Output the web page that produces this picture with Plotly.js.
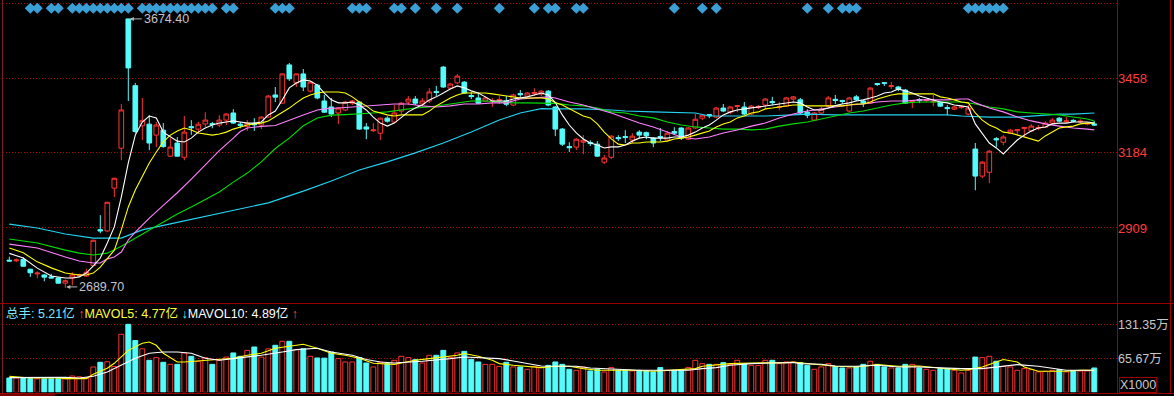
<!DOCTYPE html>
<html><head><meta charset="utf-8">
<script src="https://cdn.plot.ly/plotly-3.0.1.min.js"></script>
<style>html,body{margin:0;padding:0;background:#000;overflow:hidden}#chart{width:1174px;height:396px}</style>
</head><body><div id="chart"></div>
<script>
// ---- price data (index order, left to right) ----
const opens  = [2791,2789,2794,2758,2741,2737,2730,2726,2707,2726,2735,2733,2772,2903,2898,3055,3201,3674.4,3430,3283,3289,3249,3267,3172,3220,3168,3280,3271,3290,3291,3286,3304,3330,3289,3280,3291,3286,3315,3396,3366,3506,3440,3473,3410,3432,3374,3352,3330,3341,3366,3370,3279,3265,3256,3311,3297,3337,3370,3381,3363,3374,3409,3498,3421,3440,3443,3394,3385,3374,3372,3376,3374,3359,3401,3392,3401,3399,3410,3352,3271,3207,3205,3223,3222,3216,3150,3168,3240,3244,3231,3260,3258,3238,3244,3231,3262,3275,3234,3275,3311,3324,3315,3348,3333,3354,3352,3326,3350,3359,3372,3350,3355,3381,3378,3333,3304,3330,3355,3380,3376,3337,3389,3374,3366,3438,3441,3427,3425,3414,3372,3379,3376,3370,3370,3350,3344,3350,3326,3198,3099,3113,3236,3223,3256,3265,3273,3264,3274,3278,3293,3311,3298,3303,3298,3289,3290];
const highs  = [2804,2797,2801,2760,2750,2740,2741,2728,2720,2747,2742,2760,2866,2956,3005,3093,3363,3674.4,3440,3385,3322,3297,3293,3238,3242,3319,3304,3297,3333,3297,3322,3330,3344,3297,3304,3311,3318,3396,3425,3475,3513,3475,3491,3447,3436,3396,3385,3352,3374,3378,3374,3293,3293,3313,3318,3359,3370,3392,3392,3385,3421,3429,3502,3440,3473,3447,3407,3403,3392,3385,3392,3392,3400,3414,3407,3421,3414,3414,3355,3275,3223,3238,3249,3230,3227,3176,3249,3249,3267,3256,3267,3262,3242,3275,3264,3278,3278,3278,3326,3326,3326,3352,3363,3355,3358,3370,3359,3359,3385,3389,3370,3389,3392,3385,3344,3333,3352,3392,3396,3378,3389,3396,3378,3425,3440,3442,3443,3429,3418,3378,3385,3381,3396,3374,3359,3355,3355,3359,3220,3154,3194,3242,3249,3271,3271,3278,3289,3286,3300,3311,3315,3315,3307,3307,3296,3300];
const lows   = [2786,2784,2768,2730,2725,2714,2725,2705,2689.7,2699,2730,2730,2768,2890,2895,3022,3157,3374,3255,3231,3194,3205,3203,3170,3170,3157,3250,3256,3278,3274,3278,3286,3290,3274,3264,3264,3271,3313,3370,3364,3447,3425,3410,3405,3380,3330,3315,3289,3337,3359,3268,3234,3260,3231,3295,3295,3326,3359,3359,3355,3366,3392,3422,3418,3436,3400,3381,3363,3370,3352,3363,3355,3355,3389,3388,3392,3392,3355,3245,3209,3187,3194,3179,3209,3170,3143,3161,3227,3220,3220,3238,3234,3205,3227,3228,3249,3231,3231,3272,3304,3311,3311,3333,3326,3333,3322,3322,3344,3348,3359,3340,3352,3370,3326,3311,3300,3326,3352,3363,3363,3333,3374,3352,3363,3429,3429,3418,3410,3363,3348,3366,3370,3355,3352,3322,3340,3344,3322,3047,3091,3073,3205,3212,3253,3249,3242,3260,3267,3275,3290,3297,3293,3296,3293,3285,3283];
const closes = [2788,2792,2769,2745,2744,2729,2726,2707,2716,2737,2738,2747,2864,2898,3003,3091,3341,3495,3262,3303,3220,3286,3207,3205,3172,3260,3276,3289,3304,3288,3304,3326,3293,3285,3293,3287,3315,3392,3388,3473,3455,3473,3425,3443,3385,3333,3326,3348,3370,3374,3271,3271,3268,3311,3300,3330,3366,3381,3366,3374,3407,3405,3425,3436,3465,3403,3390,3366,3385,3374,3379,3362,3396,3397,3403,3405,3410,3359,3271,3216,3203,3234,3230,3218,3172,3165,3245,3236,3240,3245,3249,3247,3220,3240,3256,3256,3238,3275,3307,3322,3320,3348,3337,3352,3357,3326,3355,3353,3381,3368,3353,3385,3389,3330,3322,3330,3344,3385,3376,3372,3385,3378,3366,3421,3434,3439,3430,3418,3366,3375,3376,3378,3372,3355,3346,3352,3352,3348,3099,3150,3190,3232,3242,3267,3269,3277,3282,3277,3293,3304,3300,3301,3300,3300,3292,3286];
// volume (万, x1000)
const volumes = [27.6,27.6,28,26.4,26,26,26,26,26,31.5,30,28,48.9,58,59,50,112,131.3,100,84,61.8,67,58,54,54,76,69.5,60,67,54,61.8,68,76,69.5,81,87.5,68,84,90.8,98.5,98.5,82.4,84,69.5,66.3,66,77.9,65,58.6,58.6,67,56.6,49,58.6,55.3,61.8,69.5,67,63,56.6,71.5,71.5,81,67,76,79,63.7,58.6,54,54,50,58,49,49,44.4,50,47.7,52,58.6,54,44.4,42.5,49,41.2,44.4,39.3,47.7,42.5,42.5,41.2,42.5,41.2,39.3,47.7,42.5,42.5,42.5,47.7,61.8,55.3,54,54,57.3,54,61.8,55.3,52,52,61.8,61.8,55.3,58.6,58.6,57.3,52,44.4,49,55.3,50,47,47,49,54,60,54,49,47,47,54,54,47,44.4,42.5,45.7,45.7,42.5,37.3,42.5,68,67,69.5,60,50,49,42.5,45.7,43.8,39.3,40.5,42.5,43.8,39.3,41.2,41.2,41.2,47];

// moving-average lines: [index, value]
const ma5 = [[0,2816],[2,2799],[4,2762],[6,2733],[8,2726],[9,2726],[10,2730],[11,2744],[12,2770],[13,2799],[14,2854],[15,2913],[16,3022],[17,3147],[18,3249],[19,3297],[20,3319],[21,3312],[22,3260],[23,3242],[24,3227],[25,3224],[26,3238],[27,3260],[28,3275],[29,3286],[30,3293],[31,3297],[32,3301],[33,3297],[34,3293],[35,3293],[36,3297],[37,3323],[38,3337],[39,3378],[40,3422],[41,3440],[42,3451],[43,3447],[44,3432],[45,3403],[46,3378],[47,3367],[48,3367],[49,3370],[50,3359],[51,3341],[52,3315],[53,3293],[54,3282],[55,3293],[56,3312],[57,3334],[58,3348],[59,3359],[60,3378],[61,3389],[62,3403],[63,3418],[64,3429],[65,3422],[66,3411],[67,3403],[68,3389],[69,3374],[70,3374],[71,3374],[72,3381],[73,3385],[74,3389],[75,3396],[76,3403],[77,3396],[78,3368],[79,3323],[80,3286],[81,3257],[82,3235],[83,3220],[84,3213],[85,3202],[86,3206],[87,3206],[88,3213],[89,3227],[90,3238],[91,3242],[92,3238],[93,3238],[94,3238],[95,3242],[96,3242],[97,3249],[98,3260],[99,3275],[100,3286],[101,3304],[102,3323],[103,3334],[104,3341],[105,3345],[106,3348],[107,3352],[108,3356],[109,3359],[110,3363],[111,3367],[112,3370],[113,3367],[114,3352],[115,3341],[116,3341],[117,3348],[118,3357],[119,3363],[120,3367],[121,3374],[122,3378],[123,3385],[124,3392],[125,3403],[126,3407],[127,3418],[128,3411],[129,3403],[130,3392],[131,3385],[132,3378],[133,3370],[134,3367],[135,3359],[136,3356],[137,3352],[138,3290],[139,3253],[140,3220],[141,3202],[142,3180],[143,3206],[144,3231],[145,3249],[146,3264],[147,3275],[148,3279],[149,3290],[150,3293],[151,3293],[152,3297],[153,3297],[154,3297],[155,3293]];
const ma10 = [[0,2836],[2,2818],[4,2785],[6,2763],[8,2744],[10,2737],[11,2737],[12,2744],[13,2766],[14,2799],[15,2828],[16,2902],[17,2986],[18,3048],[19,3096],[20,3147],[21,3187],[22,3224],[23,3249],[24,3264],[25,3275],[26,3268],[27,3257],[28,3253],[29,3249],[30,3253],[31,3260],[32,3271],[33,3279],[34,3286],[35,3290],[36,3293],[37,3301],[38,3317],[39,3330],[40,3348],[41,3367],[42,3385],[43,3396],[44,3403],[45,3407],[46,3407],[47,3407],[48,3403],[49,3389],[50,3370],[51,3356],[52,3337],[53,3330],[54,3323],[55,3319],[56,3323],[57,3323],[58,3323],[59,3323],[60,3337],[61,3356],[62,3370],[63,3385],[64,3396],[65,3403],[66,3403],[67,3403],[68,3403],[69,3400],[70,3396],[71,3392],[72,3389],[73,3385],[74,3385],[75,3385],[76,3385],[77,3381],[78,3368],[79,3359],[80,3345],[81,3330],[82,3319],[83,3312],[84,3290],[85,3260],[86,3235],[87,3216],[88,3213],[89,3220],[90,3220],[91,3224],[92,3224],[93,3224],[94,3227],[95,3235],[96,3238],[97,3242],[98,3249],[99,3257],[100,3264],[101,3279],[102,3290],[103,3297],[104,3312],[105,3319],[106,3330],[107,3334],[108,3345],[109,3348],[110,3352],[111,3356],[112,3359],[113,3359],[114,3356],[115,3356],[116,3356],[117,3356],[118,3357],[119,3356],[120,3359],[121,3363],[122,3363],[123,3370],[124,3381],[125,3389],[126,3396],[127,3400],[128,3400],[129,3400],[130,3400],[131,3400],[132,3400],[133,3389],[134,3385],[135,3378],[136,3370],[137,3367],[138,3330],[139,3304],[140,3286],[141,3275],[142,3260],[143,3257],[144,3249],[145,3242],[146,3235],[147,3227],[148,3246],[149,3260],[150,3275],[151,3279],[152,3282],[153,3290],[154,3293],[155,3293]];
const ma20 = [[0,2850],[4,2836],[8,2803],[10,2788],[12,2781],[13,2781],[14,2796],[15,2803],[16,2821],[17,2865],[18,2894],[19,2920],[20,2945],[22,2992],[24,3038],[26,3088],[28,3140],[30,3192],[32,3238],[33,3262],[34,3275],[36,3281],[38,3284],[40,3304],[42,3323],[44,3341],[45,3345],[47,3348],[49,3352],[51,3356],[53,3359],[55,3363],[57,3363],[59,3356],[61,3352],[63,3356],[65,3363],[67,3363],[69,3367],[71,3367],[73,3381],[75,3385],[77,3389],[78,3385],[80,3370],[82,3359],[84,3345],[86,3330],[88,3312],[90,3293],[92,3279],[94,3260],[96,3242],[98,3235],[100,3242],[102,3257],[104,3268],[106,3282],[108,3293],[110,3312],[112,3326],[114,3337],[116,3345],[118,3352],[120,3359],[122,3363],[124,3370],[126,3374],[128,3374],[130,3378],[132,3378],[134,3378],[136,3381],[137,3381],[138,3367],[140,3348],[142,3334],[144,3315],[146,3301],[148,3290],[150,3282],[152,3275],[154,3271],[155,3268]];
const ma30 = [[0,2869],[4,2854],[8,2828],[10,2817],[12,2810],[14,2817],[16,2842],[18,2872],[20,2900],[22,2931],[24,2960],[26,2986],[28,3015],[30,3041],[32,3077],[34,3110],[36,3151],[38,3200],[40,3238],[42,3283],[44,3312],[46,3322],[48,3324],[50,3326],[52,3330],[54,3334],[56,3341],[58,3348],[60,3352],[62,3359],[64,3367],[66,3374],[68,3374],[70,3370],[72,3367],[74,3367],[76,3367],[78,3365],[80,3359],[82,3356],[84,3348],[86,3334],[88,3330],[90,3319],[92,3312],[94,3297],[96,3286],[98,3279],[100,3275],[102,3271],[104,3271],[106,3268],[108,3271],[110,3282],[112,3290],[114,3297],[116,3308],[118,3319],[120,3330],[122,3337],[124,3348],[126,3359],[128,3367],[130,3370],[132,3370],[134,3370],[136,3370],[138,3363],[140,3352],[142,3345],[144,3334],[146,3330],[148,3326],[150,3323],[152,3315],[154,3308],[155,3301]];
const ma60 = [[0,2923],[4,2909],[8,2887],[12,2872],[16,2872],[19,2902],[23,2924],[27,2946],[32,2971],[37,3001],[42,3044],[46,3081],[50,3121],[54,3151],[58,3184],[62,3220],[66,3260],[70,3304],[73,3330],[76,3346],[78,3345],[82,3345],[86,3341],[88,3337],[92,3334],[96,3330],[98,3330],[100,3319],[104,3319],[108,3319],[112,3323],[114,3326],[118,3323],[122,3323],[126,3323],[130,3323],[134,3323],[136,3319],[140,3315],[144,3315],[148,3323],[150,3326],[152,3326],[154,3330],[155,3330]];
const mavol5 = [[0,30.9],[2,29.6],[3,27.6],[7,27.6],[8,26.5],[11,26.5],[12,34.8],[14,46.4],[15,56],[17,81],[19,94.6],[20,97],[21,90.8],[22,75.3],[24,58.5],[25,58.5],[27,60.5],[29,61.8],[32,65.7],[34,71.5],[36,75.3],[38,85],[40,88.8],[42,92.7],[44,85],[46,75.3],[48,71.5],[50,65.7],[52,56],[55,54],[56,56.6],[58,61.8],[60,65],[62,68.2],[64,71.5],[65,74.8],[67,69.5],[69,61.8],[70,55.4],[72,52.2],[75,48.9],[76,47.7],[78,50.2],[80,50.2],[82,45.8],[84,42.5],[87,42.5],[89,42.5],[92,40.6],[94,42.5],[96,43.8],[98,45.8],[99,50.2],[101,53.5],[103,55.4],[106,56.6],[108,56.6],[111,57.4],[112,58.5],[113,56.6],[115,54.1],[118,50.2],[121,48.9],[124,53.5],[127,50.2],[130,50.8],[133,46.9],[136,42.5],[137,43.8],[139,48.9],[141,58.5],[142,63.2],[144,58.5],[145,48.9],[147,40.6],[149,40.6],[151,40.6],[153,42.5],[155,42.5]];
const mavol10 = [[0,28.4],[3,29],[8,29],[10,27.6],[12,30.9],[14,39.2],[16,52.2],[18,65.7],[20,75.3],[22,77.8],[24,77.8],[26,75.3],[28,65.7],[30,61.8],[32,65],[34,68.2],[36,71.5],[39,77.8],[41,82.5],[44,85],[46,77.8],[49,71.5],[51,63.2],[53,58.5],[55,56.6],[59,59.9],[61,61.8],[63,65],[65,68.2],[68,67],[70,65],[72,60.5],[74,55.4],[76,50.8],[78,50.2],[81,50.2],[83,46.9],[85,45.8],[88,43.8],[90,42.5],[94,42.5],[97,42.5],[99,45.8],[101,47.7],[103,52.2],[106,55.4],[109,56.6],[112,57.4],[113,55.4],[116,54.1],[118,50.8],[121,50.2],[124,52.2],[127,48.9],[130,48.9],[133,46.9],[136,45.8],[139,45.8],[142,50.2],[144,53.5],[147,50.2],[149,46.9],[151,42.5],[155,42.5]];
// signal markers (candle indices)
const signalIdx = [3,4,6,7,9,10,11,12,13,14,15,16,17,19,20,21,22,23,24,25,26,27,28,29,31,32,38,39,40,49,50,51,55,56,58,61,64,70,75,77,78,81,82,95,99,101,114,117,119,120,121,137,138,139,140,141,142];
// axis labels
const priceTicks = [2909,3184,3458,3729];
const volTicks = [65.67,131.35];
const volTickText = ['65.67万','131.35万'];
const hiIdx = 17, hiVal = 3674.40, loIdx = 8, loVal = 2689.70;
const legendParts = [['总手: 5.21亿 ','#7fe6ff',0],['↑','#ff5050',1],['MAVOL5: 4.77亿 ','#ffff33',0],['↓','#55ffff',1],['MAVOL10: 4.89亿 ','#ffffff',0],['↑','#ff5050',1]];

// ---- layout ----
const W = 1174, H = 396;
const PX = v => v / W, PY = v => 1 - v / H;
const RED = '#ff3333', CYAN = '#54fcfc', FRAME = '#9a0000';
const FONT = 'Liberation Sans, Arial, Noto Sans CJK SC, sans-serif';
const yHi = 3743.6, yLo = yHi - 303 * 3.6607;
const volHi = (392.3 - 303) * 65.67 / 34;
const idx = closes.map((_, i) => i);
const up = closes.map((c, i) => c >= opens[i]);

const line = (pairs, color, yaxis) => ({type: 'scatter', mode: 'lines', x: pairs.map(p => p[0]), y: pairs.map(p => p[1]),
  yaxis: yaxis || 'y', line: {color: color, width: 1.1}, hoverinfo: 'skip'});

const data = [
  {type: 'bar', x: idx, y: volumes, yaxis: 'y2', width: 0.7,
   marker: {color: up.map(u => u ? '#000000' : CYAN), line: {color: up.map(u => u ? RED : CYAN), width: 1}}, hoverinfo: 'skip'},
  line(mavol5, '#ffff00', 'y2'),
  line(mavol10, '#ffffff', 'y2'),
  {type: 'candlestick', x: idx, open: opens, high: highs, low: lows, close: closes,
   increasing: {line: {color: RED, width: 1}, fillcolor: '#000000'},
   decreasing: {line: {color: CYAN, width: 1}, fillcolor: CYAN}, whiskerwidth: 0, hoverinfo: 'skip'},
  line(ma60, '#22d3f2'),
  line(ma30, '#00dd00'),
  line(ma20, '#ff80ff'),
  line(ma10, '#ffff00'),
  line(ma5, '#ffffff'),
  {type: 'scatter', mode: 'markers', x: signalIdx, y: signalIdx.map(() => yHi - 8.3 * (yHi - yLo) / 303),
   marker: {symbol: 'diamond', size: 8.5, color: '#3a9fd5'}, hoverinfo: 'skip'}
];

const shapes = [
  {type: 'line', xref: 'paper', yref: 'paper', x0: PX(2.5), x1: PX(2.5), y0: PY(0), y1: PY(393), line: {color: '#7a2020', width: 1}},
  {type: 'line', xref: 'paper', yref: 'paper', x0: 0, x1: 1, y0: PY(303.5), y1: PY(303.5), line: {color: FRAME, width: 1}},
  {type: 'line', xref: 'paper', yref: 'paper', x0: PX(1117.5), x1: PX(1117.5), y0: PY(0), y1: PY(393), line: {color: FRAME, width: 1}},
  {type: 'line', xref: 'paper', yref: 'paper', x0: PX(1170.5), x1: PX(1170.5), y0: PY(0), y1: PY(393), line: {color: FRAME, width: 1}},
  {type: 'line', xref: 'paper', yref: 'paper', x0: 0, x1: 1, y0: PY(393.5), y1: PY(393.5), line: {color: FRAME, width: 1}},
  {type: 'rect', xref: 'paper', yref: 'paper', x0: 0, x1: PX(55), y0: PY(396), y1: PY(394), fillcolor: '#7a0000', line: {width: 0}}
];

const annotations = [
  {x: hiIdx, y: hiVal, xref: 'x', yref: 'y', text: hiVal.toFixed(2), showarrow: true, ax: 12, ay: 0, axref: 'pixel', ayref: 'pixel',
   xanchor: 'left', yanchor: 'middle', xshift: 1.5, arrowhead: 2, arrowsize: 0.8, arrowwidth: 1, arrowcolor: '#b8b8b8', standoff: 0,
   font: {family: FONT, size: 12.5, color: '#c4c4cc'}},
  {x: loIdx, y: loVal, xref: 'x', yref: 'y', text: loVal.toFixed(2), showarrow: true, ax: 11, ay: 0, axref: 'pixel', ayref: 'pixel',
   xanchor: 'left', yanchor: 'middle', xshift: 1, yshift: 1, arrowhead: 2, arrowsize: 0.8, arrowwidth: 1, arrowcolor: '#b8b8b8', standoff: 0,
   font: {family: FONT, size: 12.5, color: '#c4c4cc'}},
  {xref: 'paper', yref: 'paper', x: PX(4), y: PY(313), xanchor: 'left', yanchor: 'middle', showarrow: false,
   text: legendParts.map(p => '<span style="color:' + p[1] + '">' + (p[2] ? '<b>' + p[0] + '</b>' : p[0]) + '</span>').join(''),
   font: {family: FONT, size: 12.5, color: '#ffffff'}},
  {xref: 'paper', yref: 'paper', x: PX(1118.5), y: PY(385), xanchor: 'left', yanchor: 'middle', showarrow: false,
   text: 'X1000', bordercolor: FRAME, borderwidth: 1, borderpad: 0, font: {family: FONT, size: 12.5, color: '#c8c8c8'}}
];

const layout = {
  width: W, height: H, margin: {l: 0, r: 0, t: 0, b: 0}, paper_bgcolor: '#000', plot_bgcolor: '#000',
  showlegend: false, hovermode: false, dragmode: false, boxgap: 0.05, boxgroupgap: 0.3,
  xaxis: {domain: [PX(3), PX(1117)], range: [-0.9, -0.9 + 1114 / 7], showgrid: false, zeroline: false, showline: false,
          showticklabels: false, ticks: '', rangeslider: {visible: false}, fixedrange: true},
  yaxis: {domain: [PY(303), 1], range: [yLo, yHi], side: 'right', anchor: 'x', tickvals: priceTicks, ticktext: priceTicks.map(String),
          ticks: '', showgrid: true, gridcolor: '#b00000', griddash: '1px,2px', gridwidth: 1, zeroline: false, showline: false,
          tickfont: {family: FONT, size: 13, color: '#ff3c3c'}, fixedrange: true},
  yaxis2: {domain: [PY(392.3), PY(303)], range: [0, volHi], side: 'right', anchor: 'x', tickvals: volTicks, ticktext: volTickText,
          ticks: '', showgrid: true, gridcolor: '#b00000', griddash: '1px,2px', gridwidth: 1, zeroline: false, showline: false,
          tickfont: {family: FONT, size: 12.5, color: '#c8c8c8'}, fixedrange: true},
  shapes: shapes, annotations: annotations
};

Plotly.newPlot('chart', data, layout, {staticPlot: true, displayModeBar: false});
</script>
</body></html>
